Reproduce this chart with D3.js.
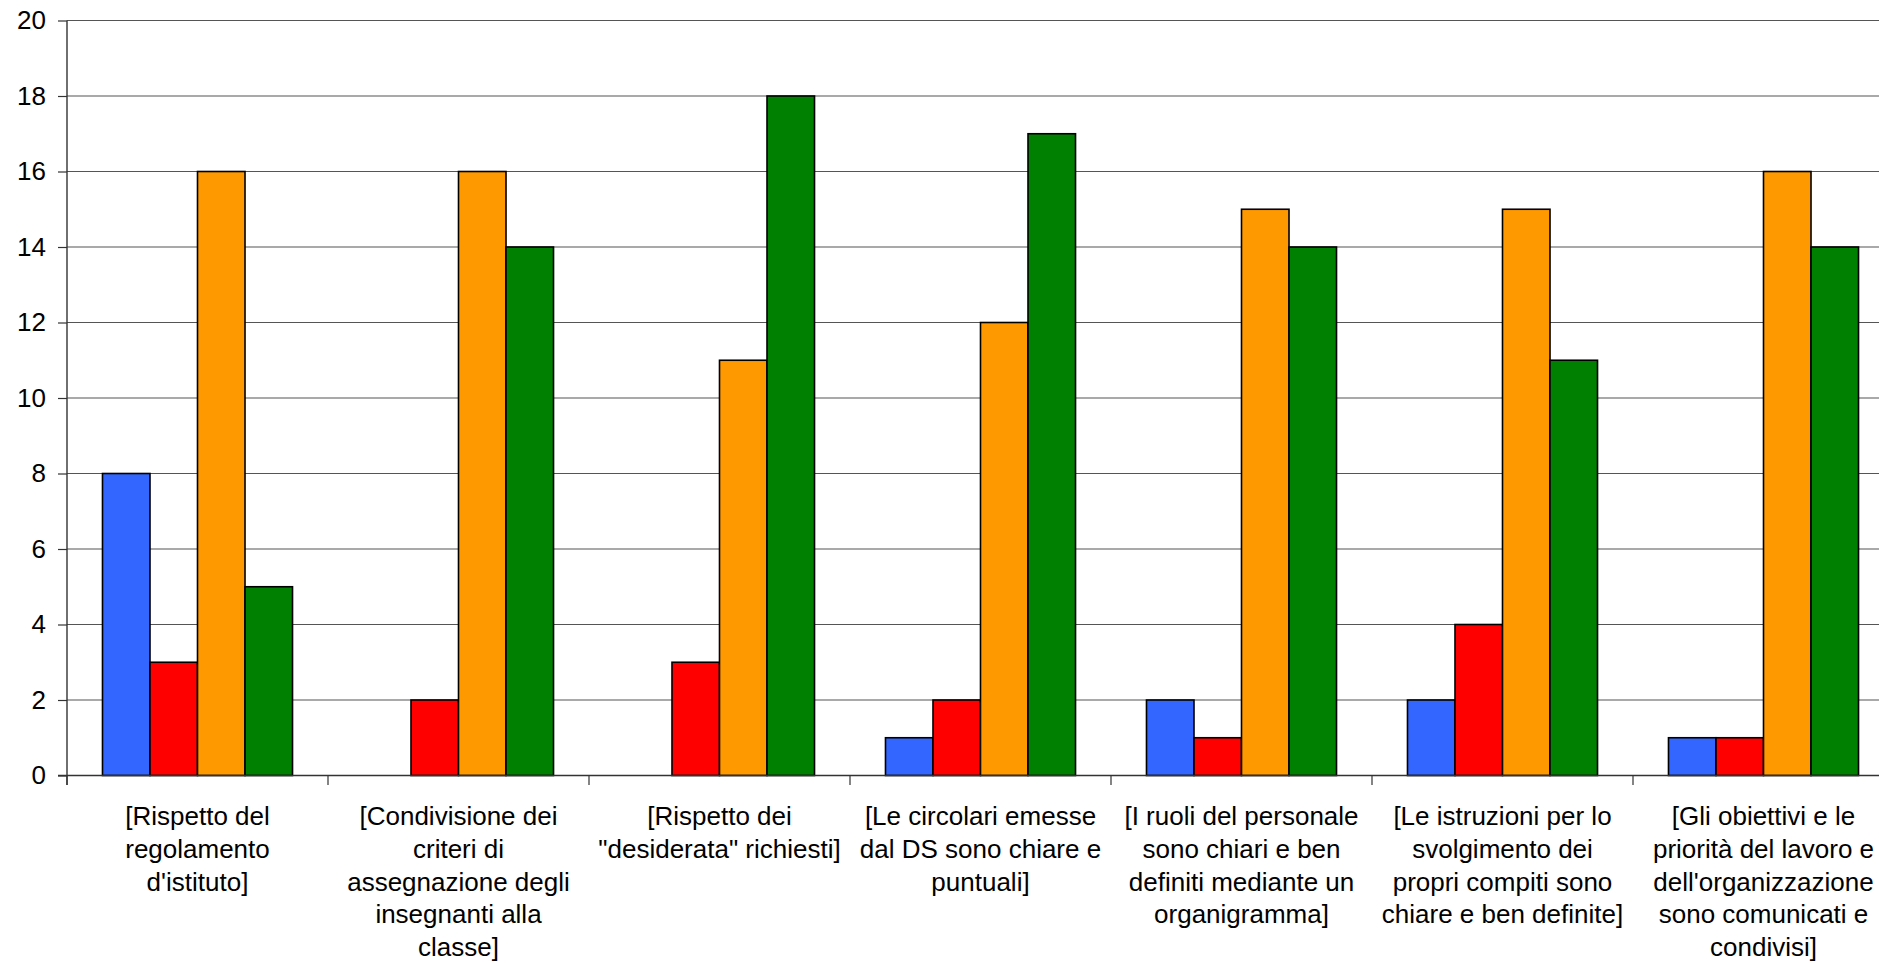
<!DOCTYPE html>
<html>
<head>
<meta charset="utf-8">
<script src="https://cdn.jsdelivr.net/npm/d3@7"></script>
<style>
  html, body { margin: 0; padding: 0; background: #fff; overflow: hidden; }
  text { font-family: "Liberation Sans", Arial, sans-serif; fill: #000; }
</style>
</head>
<body>
<svg id="chart" width="1879" height="963"></svg>
<script>
const categories = [
  "[Rispetto del\nregolamento\nd'istituto]",
  "[Condivisione dei\ncriteri di\nassegnazione degli\ninsegnanti alla\nclasse]",
  "[Rispetto dei\n\"desiderata\" richiesti]",
  "[Le circolari emesse\ndal DS sono chiare e\npuntuali]",
  "[I ruoli del personale\nsono chiari e ben\ndefiniti mediante un\norganigramma]",
  "[Le istruzioni per lo\nsvolgimento dei\npropri compiti sono\nchiare e ben definite]",
  "[Gli obiettivi e le\npriorità del lavoro e\ndell'organizzazione\nsono comunicati e\ncondivisi]"
];
const seriesNames = ["s1", "s2", "s3", "s4"];
const seriesColors = ["#3366FF", "#FF0000", "#FF9900", "#008000"];
const blueValues   = [8, 0, 0, 1, 2, 2, 1];
const redValues    = [3, 2, 3, 2, 1, 4, 1];
const orangeValues = [16, 16, 11, 12, 15, 15, 16];
const greenValues  = [5, 14, 18, 17, 14, 11, 14];
const yTicks = [0, 2, 4, 6, 8, 10, 12, 14, 16, 18, 20];

const seriesValues = [blueValues, redValues, orangeValues, greenValues];

const svg = d3.select("#chart");
const left = 67, band = 261;
const x = d3.scaleBand().domain(categories).range([left, left + band * categories.length]).padding(0);
const xs = d3.scaleBand().domain(seriesNames).range([0, x.bandwidth()]).paddingInner(0).paddingOuter(0.747);
const y = d3.scaleLinear().domain([0, 20]).range([775.5, 20.5]);

// gridlines
svg.append("g").selectAll("line").data(yTicks.filter(d => d > 0)).join("line")
  .attr("x1", left).attr("x2", 1879)
  .attr("y1", d => y(d)).attr("y2", d => y(d))
  .attr("stroke", "#555").attr("stroke-width", 1.2);

// y axis
const yAxis = d3.axisLeft(y).tickValues(yTicks).tickSize(9).tickPadding(12).tickFormat(d3.format("d"));
const yg = svg.append("g").attr("transform", `translate(${left},0)`).call(yAxis);
yg.select(".domain").remove();
yg.selectAll(".tick line").attr("stroke", "#333").attr("stroke-width", 1.2);
yg.selectAll(".tick text").attr("font-size", 26).attr("font-family", "'Liberation Sans', Arial, sans-serif").attr("fill", "#000");

// bars
const data = [];
categories.forEach((c, i) => {
  seriesNames.forEach((s, j) => {
    data.push({ c, s, v: seriesValues[j][i], color: seriesColors[j] });
  });
});
svg.append("g").selectAll("rect").data(data.filter(d => d.v > 0)).join("rect")
  .attr("x", d => x(d.c) + xs(d.s))
  .attr("width", xs.bandwidth())
  .attr("y", d => y(d.v))
  .attr("height", d => y(0) - y(d.v))
  .attr("fill", d => d.color)
  .attr("stroke", "#000").attr("stroke-width", 1.6);

// axes lines
svg.append("line").attr("x1", left).attr("x2", left).attr("y1", y(20)).attr("y2", 785)
  .attr("stroke", "#333").attr("stroke-width", 1.4);
svg.append("line").attr("x1", left - 9).attr("x2", 1879).attr("y1", y(0)).attr("y2", y(0))
  .attr("stroke", "#333").attr("stroke-width", 1.4);

// x ticks at band boundaries
const bounds = categories.map(c => x(c)).concat([x(categories[categories.length - 1]) + band]);
svg.append("g").selectAll("line").data(bounds).join("line")
  .attr("x1", d => d).attr("x2", d => d)
  .attr("y1", y(0)).attr("y2", 785)
  .attr("stroke", "#333").attr("stroke-width", 1.2);

// x labels
const lg = svg.append("g");
categories.forEach(c => {
  const t = lg.append("text")
    .attr("x", x(c) + band / 2)
    .attr("y", 825)
    .attr("text-anchor", "middle")
    .attr("font-size", 26);
  c.split("\n").forEach((line, k) => {
    t.append("tspan").attr("x", x(c) + band / 2).attr("dy", k === 0 ? 0 : 32.8).text(line);
  });
});
</script>
</body>
</html>
